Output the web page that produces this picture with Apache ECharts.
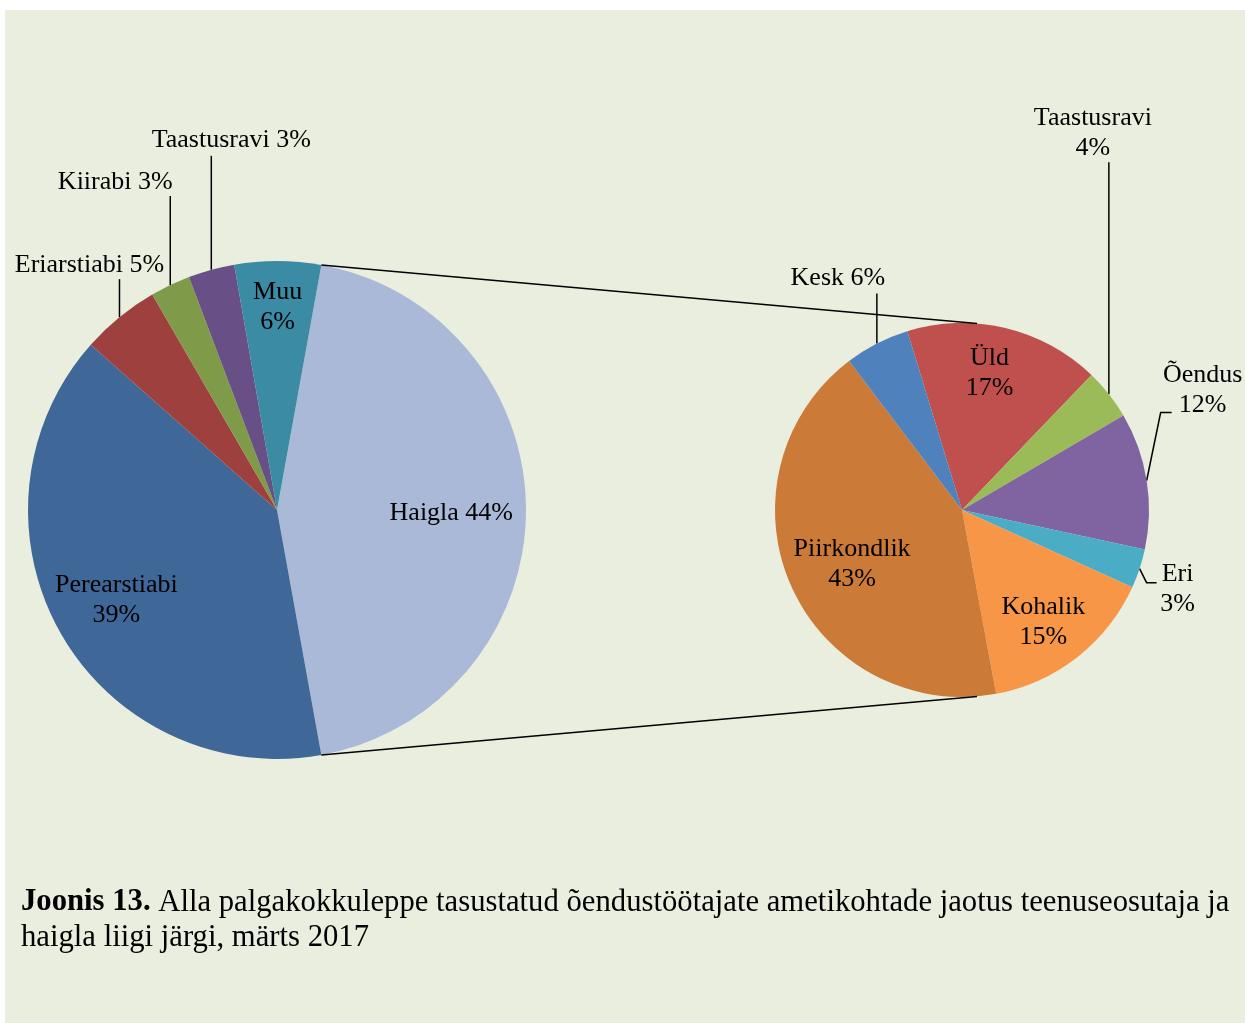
<!DOCTYPE html>
<html>
<head>
<meta charset="utf-8">
<script src="https://cdn.jsdelivr.net/npm/echarts@6/dist/echarts.min.js"></script>
<style>
  body { margin: 0; background: #fff; }
  #panel { position: absolute; left: 5px; top: 10px; width: 1240px; height: 1013px; background: #EAEEDE; }
  #main { position: absolute; left: 0; top: 0; width: 1245px; height: 1023px; }
</style>
</head>
<body>
<div id="panel"></div>
<div id="main"></div>
<script>
// vasak ring: teenuseosutaja
var providerNames = ['Haigla', 'Perearstiabi', 'Eriarstiabi', 'Kiirabi', 'Taastusravi', 'Muu'];
var providerShares = [44.3, 39.4, 5.1, 2.6, 3.0, 5.6];
// parem ring: haigla liik
var hospitalNames = ['Üld', 'Taastusravi', 'Õendus', 'Eri', 'Kohalik', 'Piirkondlik', 'Kesk'];
var hospitalShares = [16.9, 4.4, 11.8, 3.4, 15.3, 42.6, 5.6];

var providerColors = ['#AAB9D7', '#3F6797', '#9E413E', '#7F9A48', '#684F86', '#3A8BA3'];
var hospitalColors = ['#C0504D', '#9BBB59', '#8064A2', '#4BACC6', '#F79646', '#CB7A37', '#4F81BD'];

var FONT = "'Liberation Serif','Times New Roman',serif";

function sum(arr) { return arr.reduce(function (a, b) { return a + b; }, 0); }

var leftPie = { cx: 277, cy: 510, r: 249 };
leftPie.start = providerShares[0] / sum(providerShares) * 180; // Haigla keskel kell 3 suunas
var rightPie = { cx: 962, cy: 510, r: 187, start: 107 };

// sildid: k = sees (osa raadiusest); leg = juhtjoone murdepunktid servast; at = sildi keskpunkt joone otsast
var leftLabels = {
  'Haigla': { k: 0.7, dy: 3 },
  'Perearstiabi': { k: 0.74, two: true },
  'Muu': { k: 0.815, two: true },
  'Eriarstiabi': { leg: [[0, -38]], at: [-30, -14] },
  'Kiirabi': { leg: [[0, -89]], at: [-55, -14] },
  'Taastusravi': { leg: [[0, -114]], at: [20, -16] }
};
var rightLabels = {
  'Üld': { k: 0.75, two: true, dx: -5 },
  'Kohalik': { k: 0.74, two: true, dx: -4, dy: 3 },
  'Piirkondlik': { k: 0.66, two: true, dx: 3, dy: 4 },
  'Kesk': { leg: [[0, -50]], at: [-39, -15] },
  'Taastusravi': { leg: [[0, -232]], at: [-16, -29], two: true },
  'Õendus': { leg: [[14, -68], [25, -68]], at: [31, -22], two: true },
  'Eri': { leg: [[7, 14], [17, 14]], at: [21, 7], two: true }
};

function pt(pie, clockDeg, rr) {
  var a = clockDeg * Math.PI / 180;
  return [pie.cx + rr * Math.sin(a), pie.cy - rr * Math.cos(a)];
}

function midClock(values, start, i) {
  var tot = sum(values), acc = 0;
  for (var j = 0; j < i; j++) acc += values[j];
  return 90 - start + (acc + values[i] / 2) / tot * 360;
}

function makeLayout(pie, names, values, cfg) {
  return function (params) {
    var i = params.dataIndex;
    var c = cfg[names[i]];
    var mid = midClock(values, pie.start, i);
    if (c.k) {
      var p = pt(pie, mid, c.k * pie.r);
      return { x: p[0] + (c.dx || 0), y: p[1] + (c.dy || 0), align: 'center', verticalAlign: 'middle' };
    }
    var e = pt(pie, mid, pie.r);
    var pts = [e];
    c.leg.forEach(function (d) { pts.push([e[0] + d[0], e[1] + d[1]]); });
    var last = pts[pts.length - 1];
    return {
      x: last[0] + c.at[0], y: last[1] + c.at[1],
      align: 'center', verticalAlign: 'middle',
      labelLinePoints: pts
    };
  };
}

function makeSeries(pie, names, values, colors, cfg) {
  return {
    type: 'pie',
    center: [pie.cx, pie.cy],
    radius: pie.r,
    startAngle: pie.start,
    clockwise: true,
    avoidLabelOverlap: false,
    emphasis: { disabled: true },
    data: names.map(function (n, i) {
      return {
        name: n, value: values[i],
        itemStyle: { color: colors[i] },
        labelLine: { show: !!cfg[n].leg }
      };
    }),
    label: {
      show: true,
      position: 'outside',
      color: '#000',
      fontFamily: FONT,
      fontSize: 26,
      lineHeight: 30,
      formatter: function (p) {
        return p.name + (cfg[p.name].two ? '\n' : ' ') + Math.round(p.percent) + '%';
      }
    },
    labelLine: { length: 10, length2: 10, lineStyle: { color: '#000', width: 1.5 } },
    labelLayout: makeLayout(pie, names, values, cfg)
  };
}

// ühendusjooned Haigla sektori servadest parema ringi üla- ja alaossa
var a0 = 90 - leftPie.start;
var a1 = a0 + providerShares[0] / sum(providerShares) * 360;
var l0 = pt(leftPie, a0, leftPie.r), l1 = pt(leftPie, a1, leftPie.r);
var r0 = pt(rightPie, 4.6, rightPie.r), r1 = pt(rightPie, 175.4, rightPie.r);

var myChart = echarts.init(document.getElementById('main'));
var option = {
  animation: false,
  title: {
    left: 21,
    top: 885,
    padding: 0,
    text: '{b|Joonis 13.} Alla palgakokkuleppe tasustatud õendustöötajate ametikohtade jaotus teenuseosutaja ja\nhaigla liigi järgi, märts 2017',
    textStyle: {
      fontFamily: FONT, fontSize: 30.7, fontWeight: 'normal', color: '#000', lineHeight: 35,
      rich: { b: { fontFamily: FONT, fontSize: 30.7, fontWeight: 'bold', color: '#000', lineHeight: 35 } }
    }
  },
  graphic: [
    { type: 'line', z: 10, shape: { x1: l0[0], y1: l0[1], x2: r0[0], y2: r0[1] }, style: { stroke: '#000', lineWidth: 1.5 } },
    { type: 'line', z: 10, shape: { x1: l1[0], y1: l1[1], x2: r1[0], y2: r1[1] }, style: { stroke: '#000', lineWidth: 1.5 } }
  ],
  series: [
    makeSeries(leftPie, providerNames, providerShares, providerColors, leftLabels),
    makeSeries(rightPie, hospitalNames, hospitalShares, hospitalColors, rightLabels)
  ]
};
myChart.setOption(option);
</script>
</body>
</html>
